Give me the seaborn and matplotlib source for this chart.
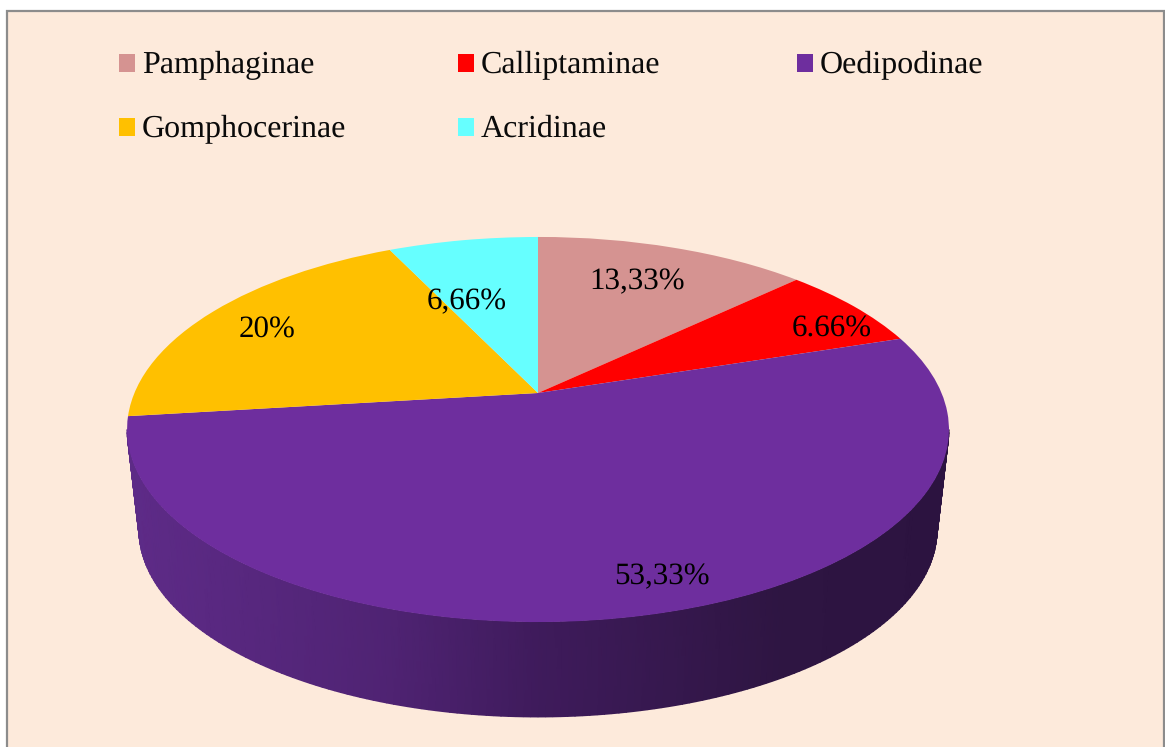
import numpy as np
import matplotlib
matplotlib.use("Agg")
import matplotlib.pyplot as plt
from matplotlib.colors import LinearSegmentedColormap
from matplotlib.patches import Rectangle
from matplotlib.transforms import Transform
import seaborn as sns

categories = ["Pamphaginae", "Calliptaminae", "Oedipodinae", "Gomphocerinae", "Acridinae"]
values = [13.33, 6.66, 53.33, 20, 6.66]
value_labels = ["13,33%", "6.66%", "53,33%", "20%", "6,66%"]
colors = ["#d59391", "#ff0000", "#6e2e9e", "#ffc000", "#66ffff"]

BG = "#fdeadb"
sns.set_theme(style="white")
plt.rcParams["font.family"] = ["Liberation Serif", "DejaVu Serif"]
plt.rcParams["text.hinting"] = "no_hinting"
plt.rcParams["text.hinting_factor"] = 1

W, H = 1165, 747
fig = plt.figure(figsize=(W / 100, H / 100), dpi=100, facecolor="white")
ax = fig.add_axes([0, 0, 1, 1])

# perspective of the pie disc, from unit-circle coordinates to image pixels
CX, AX_D, AY, BY, CW = 538.0, 403.5, -111.1, 393.0, 0.1896
# small calibration of the disc's angles (degrees clockwise from the top)
ANG_IN = [0, 48, 72, 264, 336, 360]
ANG_OUT = [0, 46.4, 72, 263, 334.5, 360]


def project(u, v):
    w = 1 + CW * v
    return CX + AX_D * u / w, (AY * v + BY) / w


class Perspective(Transform):
    input_dims = 2
    output_dims = 2
    is_separable = False
    has_inverse = False

    def transform_non_affine(self, values):
        values = np.asarray(values, dtype=float)
        r = np.hypot(values[:, 0], values[:, 1])
        ang = np.degrees(np.arctan2(values[:, 0], values[:, 1])) % 360
        ang = np.radians(np.interp(ang, ANG_IN, ANG_OUT))
        x, y = project(r * np.sin(ang), r * np.cos(ang))
        return np.column_stack([x, y])


ax.add_patch(Rectangle((6.5, 10.5), 1157.5, 760, facecolor=BG, edgecolor="#8c8c8c",
                       linewidth=1.6, zorder=0))

# pie side wall, between the two tangent points of the disc
t0 = np.arccos(-CW)
theta = np.linspace(t0, 2 * np.pi - t0, 181)
tx, ty = project(np.sin(theta), np.cos(theta))
SCALE = 0.971
bx = CX + (tx - CX) * SCALE
by = 530.0 + (ty - 429.5) * SCALE
X = np.vstack([tx, bx])
Y = np.vstack([ty, by])
cmap = LinearSegmentedColormap.from_list(
    "wall",
    [(0.0, "#5e2b88"), (0.32, "#4f2373"), (0.5, "#3f1b5c"), (0.8, "#2e1542"), (1.0, "#2c1340")],
)
ax.pcolormesh(X, Y, (X - 127) / 822, cmap=cmap, vmin=0, vmax=1, shading="gouraud", zorder=1)

# pie top surface
wedges, _ = ax.pie(values, colors=sns.color_palette(colors), startangle=90, counterclock=False,
                   wedgeprops={"linewidth": 0})
persp = Perspective() + ax.transData
for wd in wedges:
    wd.set_transform(persp)
    wd.set_zorder(2)
    wd.set_clip_on(False)

label_pos = [(637, 289), (832, 337), (662, 584), (267, 338), (467, 309)]
for (lx, ly), txt in zip(label_pos, value_labels):
    ax.text(lx, ly, txt, fontsize=22.2, color="black", ha="center", va="baseline", zorder=3)

# legend: three columns at their own positions
columns = [([0, 3], 109), ([1, 4], 448), ([2], 787)]
for n, (idx, x0) in enumerate(columns):
    leg = ax.legend([wedges[i] for i in idx], [categories[i] for i in idx],
                    loc="upper left", bbox_to_anchor=(x0, 41), bbox_transform=ax.transData,
                    frameon=False, fontsize=23, handlelength=0.5, handleheight=0.5,
                    handletextpad=0.22, labelspacing=1.09, borderpad=0.3, borderaxespad=0)
    for t in leg.get_texts():
        t.set_color("#0a0a0a")
    for p in leg.get_patches():
        p.set_y(p.get_y() - 1.4)
    if n < len(columns) - 1:
        ax.add_artist(leg)

ax.set_aspect("auto")
ax.set_xlim(0, W)
ax.set_ylim(H, 0)
ax.axis("off")
fig.savefig("out.png", dpi=100, facecolor="white")
